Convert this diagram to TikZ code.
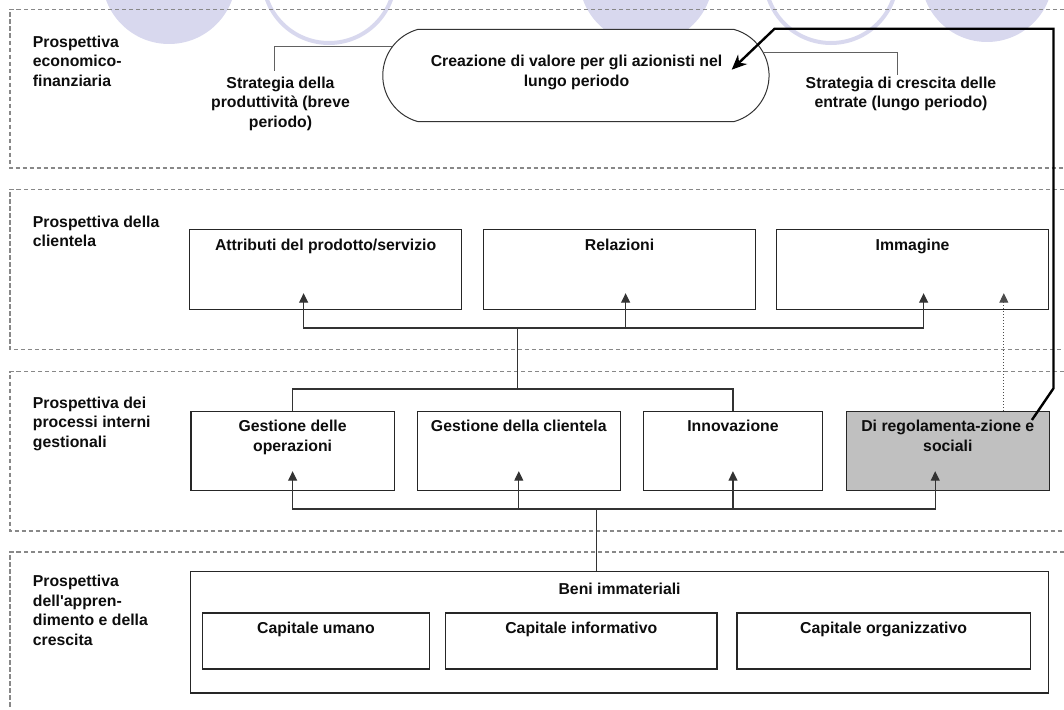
\documentclass[tikz,border=0pt]{standalone}
\usepackage{fontspec}
\setmainfont{Liberation Sans}
\usetikzlibrary{arrows.meta,shapes.misc,positioning}
\definecolor{lav}{HTML}{D8D8EE}
\definecolor{bandgray}{HTML}{888888}
\definecolor{regfill}{HTML}{C0C0C0}
\begin{document}
\begin{tikzpicture}[x=1pt,y=-1pt,
  txt/.style={font=\fontsize{15.8}{19.4}\selectfont\bfseries, inner sep=0pt, align=center, text=black!95},
  lbl/.style={txt, align=left, anchor=north west},
  band/.style={draw=bandgray, line width=1.2pt, dash pattern=on 4.5pt off 2.5pt},
  stepbox/.style={draw=black!85, line width=1.2pt, fill=white, inner sep=0pt, anchor=north west},
  stadium/.style={draw=black!80, line width=1pt, fill=white, rounded rectangle, rounded rectangle arc length=150, inner sep=0pt},
  conn/.style={draw=black!80, line width=1.1pt},
  softconn/.style={draw=black!62, line width=1pt},
  arr/.style={conn, -{Triangle[length=9.5pt,width=9pt]}},
  dotarr/.style={draw=black!70, line width=1pt, dotted, -{Triangle[length=9.5pt,width=9pt]}},
  bigarr/.style={draw=black, line width=2.4pt, -{Stealth[length=15pt,width=13pt]}}
]
\useasboundingbox (0,0) rectangle (1064,709);

% decorative discs and rings along the top edge
\fill[lav] (169,-23) circle[radius=67pt];
\draw[lav, line width=4pt] (329,-23) circle[radius=66pt];
\fill[lav] (646,-23) circle[radius=67pt];
\draw[lav, line width=4pt] (831,-23) circle[radius=66pt];
\fill[lav] (987,-24) circle[radius=66pt];

% perspective bands
\draw[band] (1064,9.5) -- (10,9.5) -- (10,168) -- (1064,168);
\draw[band] (1064,189.3) -- (10,189.3) -- (10,349.5) -- (1064,349.5);
\draw[band] (1064,371.7) -- (10,371.7) -- (10,531) -- (1064,531);
\draw[band] (1064,552) -- (10,552) -- (10,709);

% band titles
\node[lbl] (p1) at (32.7,35.8) {Prospettiva\\economico-\\finanziaria};
\node[lbl] (p2) at (32.7,215.8) {Prospettiva della\\clientela};
\node[lbl] (p3) at (32.7,396.8) {Prospettiva dei\\processi interni\\gestionali};
\node[lbl] (p4) at (32.7,575.2) {Prospettiva\\dell\textquotesingle appren-\\dimento e della\\crescita};

% economic-financial perspective
\node[stadium, minimum width=386.3pt, minimum height=92.4pt] (valore) at (575.9,75.5) {};
\node[txt, anchor=north] (valtxt) at (576.5,55.2) {Creazione di valore per gli azionisti nel\\lungo periodo};
\node[txt, anchor=north] (sprod) at (280.5,76.8) {Strategia della\\produttività (breve\\periodo)};
\node[txt, anchor=north] (scresc) at (901,76.8) {Strategia di crescita delle\\entrate (lungo periodo)};
\draw[softconn] (valore.171.7) -| ([xshift=-6pt,yshift=5.8pt]sprod.north);
\draw[softconn] (valore.7) -| ([xshift=-4pt,yshift=1.8pt]scresc.north);

% customer perspective
\node[stepbox, minimum width=272pt, minimum height=79.5pt] (attr) at (189,229.2) {};
\node[stepbox, minimum width=272pt, minimum height=79.5pt] (rel) at (483,229.2) {};
\node[stepbox, minimum width=272pt, minimum height=79.5pt] (img) at (776,229.2) {};
\node[txt, below=9.3pt of attr.north] (attrt) {Attributi del prodotto/servizio};
\node[txt, below=9.3pt of rel.north] (relt) {Relazioni};
\node[txt, below=9.3pt of img.north] (imgt) {Immagine};

% internal process perspective
\node[stepbox, minimum width=203.2pt, minimum height=79pt] (gop) at (190.4,410.7) {};
\node[stepbox, minimum width=203pt, minimum height=79pt] (gcl) at (416.7,410.7) {};
\node[stepbox, minimum width=179.3pt, minimum height=79pt] (inn) at (642.7,410.7) {};
\node[stepbox, minimum width=203pt, minimum height=79pt, fill=regfill] (reg) at (845.7,410.7) {};
\node[txt, below=9.5pt of gop.north] (gopt) {Gestione delle\\operazioni};
\node[txt, below=9.5pt of gcl.north] (gclt) {Gestione della clientela};
\node[txt, below=9.5pt of inn.north] (innt) {Innovazione};
\node[txt, below=9.5pt of reg.north] (regt) {Di regolamenta-zione e\\sociali};

% learning and growth perspective
\node[stepbox, minimum width=858pt, minimum height=121.6pt] (beni) at (190,570.7) {};
\node[txt, below=11.8pt of beni.north] (benit) {Beni immateriali};
\node[stepbox, minimum width=226.7pt, minimum height=56pt] (cu) at (202,612.3) {};
\node[stepbox, minimum width=271.3pt, minimum height=56pt] (ci) at (445,612.3) {};
\node[stepbox, minimum width=293.2pt, minimum height=56pt] (co) at (736.4,612.3) {};
\node[txt, below=9.5pt of cu.north] (cut) {Capitale umano};
\node[txt, below=9.5pt of ci.north] (cit) {Capitale informativo};
\node[txt, below=9.5pt of co.north] (cot) {Capitale organizzativo};

% processes -> customer
\coordinate (bus2) at (517.6,328);
\coordinate (bus3) at (517.6,389);
\draw[conn] (bus3) -- (bus2);
\draw[arr] (bus2) -| ([xshift=-22pt,yshift=16.7pt]attr.south);
\draw[arr] (bus2) -| ([xshift=6pt,yshift=16.7pt]rel.south);
\draw[arr] (bus2) -| ([xshift=11pt,yshift=16.7pt]img.south);
\draw[conn] (bus3) -| (gop.north);
\draw[conn] (bus3) -| (inn.north);

% intangibles -> processes
\coordinate (bus4) at (596.4,509);
\draw[conn] (beni.north -| bus4) -- (bus4);
\draw[arr] (bus4) -| ([yshift=19.7pt]gop.south);
\draw[arr] (bus4) -| ([yshift=19.7pt]gcl.south);
\draw[arr] (bus4) -| ([yshift=19.7pt]inn.south);
\draw[arr] (bus4) -| ([xshift=-12.6pt,yshift=19.7pt]reg.south);

% regulatory/social -> image (dotted)
\coordinate (dA) at ([xshift=56pt]reg.north);
\coordinate (dB) at ([yshift=16.7pt]img.south);
\draw[dotarr] (dA) -- (dA |- dB);

% regulatory/social -> long-term value (thick)
\coordinate (k1) at (1053.5,388.3);
\coordinate (k2) at (1053.5,28.8);
\coordinate (k3) at (774.5,28.8);
\draw[bigarr] ([xshift=-18pt,yshift=-9.3pt]reg.north east) -- (k1) -- (k2) -- (k3) -- ([xshift=155.8pt,yshift=5.8pt]valore.center);
\end{tikzpicture}
\end{document}
